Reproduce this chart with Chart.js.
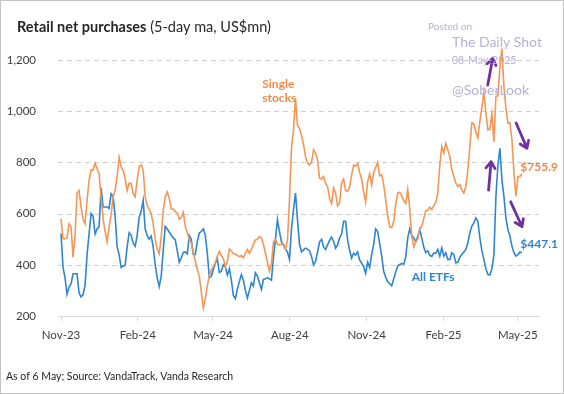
<!DOCTYPE html>
<html>
<head>
<meta charset="utf-8">
<script src="https://cdn.jsdelivr.net/npm/chart.js@4.4.1/dist/chart.umd.min.js"></script>
<style>
    html, body { margin: 0; padding: 0; background: #fff; }
    #wrap { width: 564px; height: 394px; }
</style>
</head>
<body>
<div id="wrap"><canvas id="chart" width="564" height="394"></canvas></div>
<script>
'use strict';

// x axis: days since 1 Nov 2023, one sample every ~2.4 days up to 6 May 2025
const STEP_DAYS = 2.4;
const tickDays = [0, 92, 182, 274, 366, 458, 547];
const tickLabels = ['Nov-23', 'Feb-24', 'May-24', 'Aug-24', 'Nov-24', 'Feb-25', 'May-25'];
const yTicks = [200, 400, 600, 800, 1000, 1200];

// 5-day ma, US$mn
const singleStocks = [
    580, 502, 502, 505, 560, 548, 430, 515, 680, 690,
    626, 580, 560, 650, 730, 770, 770, 796, 776, 757,
    660, 580, 530, 490, 548, 595, 665, 690, 745, 820,
    783, 770, 737, 690, 718, 718, 678, 665, 731, 783,
    790, 770, 665, 632, 615, 600, 560, 500, 462, 443,
    510, 610, 665, 685, 660, 618, 618, 608, 602, 578,
    585, 605, 550, 525, 500, 485, 447, 415, 382, 356,
    295, 232, 268, 318, 356, 380, 393, 408, 434, 452,
    436, 425, 393, 412, 462, 454, 443, 442, 436, 432,
    436, 428, 445, 460, 445, 460, 480, 497, 500, 510,
    505, 480, 445, 410, 375, 405, 490, 500, 480, 478,
    480, 482, 462, 495, 654, 855, 927, 1050, 945, 932,
    905, 870, 823, 798, 790, 800, 849, 836, 810, 738,
    735, 745, 719, 706, 660, 640, 700, 680, 630, 640,
    720, 735, 690, 688, 703, 750, 790, 785, 795, 760,
    735, 685, 645, 725, 755, 712, 760, 780, 800, 748,
    752, 712, 655, 592, 548, 545, 570, 635, 680, 683,
    670, 650, 640, 695, 620, 510, 470, 490, 500, 538,
    552, 580, 612, 612, 625, 616, 630, 645, 680, 790,
    862, 836, 875, 849, 823, 771, 745, 719, 706, 713,
    693, 680, 706, 771, 862, 955, 950, 920, 895, 960,
    1015, 1075, 992, 927, 930, 990, 880, 1057, 1060, 1174,
    1245, 1096, 1010, 953, 955, 888, 760, 667, 745, 745,
    755.9
];
const allEtfs = [
    522, 390, 350, 285, 313, 325, 365, 365, 365, 290,
    275, 283, 320, 440, 520, 600, 590, 520, 540, 548,
    700, 626, 626, 626, 620, 678, 668, 590, 470, 440,
    390, 395, 398, 470, 525, 515, 485, 472, 515, 585,
    610, 652, 540, 515, 500, 512, 470, 400, 350, 315,
    355, 456, 550, 540, 528, 515, 505, 498, 455, 410,
    426, 448, 450, 443, 515, 500, 440, 440, 490, 524,
    530, 540, 515, 445, 350, 355, 382, 407, 422, 370,
    375, 400, 392, 360, 385, 340, 280, 268, 305, 335,
    362, 340, 300, 270, 300, 330, 317, 369, 356, 330,
    304, 343, 345, 350, 345, 340, 430, 500, 577, 530,
    490, 476, 462, 450, 421, 540, 616, 680, 575, 480,
    450, 458, 465, 461, 455, 432, 400, 412, 450, 490,
    499, 470, 460, 478, 495, 508, 492, 465, 478, 505,
    520, 570, 570, 497, 458, 426, 445, 438, 451, 419,
    406, 393, 367, 410, 390, 440, 480, 540, 530, 484,
    435, 375, 352, 334, 326, 318, 345, 372, 395, 401,
    405, 402, 430, 505, 540, 515, 505, 490, 510, 538,
    505, 468, 448, 455, 437, 433, 446, 445, 460, 434,
    466, 434, 447, 421, 421, 447, 440, 408, 410, 430,
    440, 450, 460, 486, 525, 551, 564, 583, 570, 505,
    455, 420, 385, 362, 360, 385, 440, 667, 790, 855,
    732, 667, 582, 537, 512, 473, 447, 434, 440, 450,
    447.1
];

const ORANGE = '#F39656';
const BLUE = '#2F85CE';
const PURPLE = '#7030A0';
const FONT = 'Lato, "Open Sans", sans-serif';

// annotations in data space: [day, value]
const seriesLabels = [
    { text: 'Single', day: 241, val: 1106, color: '#EE8A47' },
    { text: 'stocks', day: 241, val: 1050, color: '#EE8A47' },
    { text: 'All ETFs', day: 420, val: 352, color: BLUE },
    { text: '$755.9', day: 550, val: 782, color: '#EE8A47' },
    { text: '$447.1', day: 550, val: 481, color: BLUE }
];
const arrows = [
    [511, 1102, 517, 1207],
    [512, 692, 515, 803],
    [545, 954, 558, 855],
    [538.5, 646, 552, 549]
];

function toPoints(values) {
    return values.map((v, i) => ({ x: i * STEP_DAYS, y: v }));
}

function drawArrow(ctx, x1, y1, x2, y2) {
    const ang = Math.atan2(y2 - y1, x2 - x1);
    const head = 8;
    ctx.save();
    ctx.strokeStyle = PURPLE;
    ctx.lineWidth = 2.8;
    ctx.lineCap = 'round';
    ctx.lineJoin = 'round';
    ctx.beginPath();
    ctx.moveTo(x1, y1);
    ctx.lineTo(x2, y2);
    ctx.moveTo(x2 - head * Math.cos(ang - 0.6), y2 - head * Math.sin(ang - 0.6));
    ctx.lineTo(x2, y2);
    ctx.lineTo(x2 - head * Math.cos(ang + 0.6), y2 - head * Math.sin(ang + 0.6));
    ctx.stroke();
    ctx.restore();
}

// dashed horizontal gridlines, drawn under the series
const gridPlugin = {
    id: 'dashGrid',
    beforeDatasetsDraw(chart) {
        const ctx = chart.ctx, area = chart.chartArea, ys = chart.scales.y;
        ctx.save();
        ctx.strokeStyle = '#cfcfcf';
        ctx.lineWidth = 1;
        ctx.setLineDash([5, 4]);
        yTicks.forEach(v => {
            if (v === ys.min) return;
            const y = Math.round(ys.getPixelForValue(v)) + 0.5;
            ctx.beginPath();
            ctx.moveTo(area.left, y);
            ctx.lineTo(area.right, y);
            ctx.stroke();
        });
        ctx.restore();
    }
};

const decorPlugin = {
    id: 'decor',
    afterDraw(chart) {
        const ctx = chart.ctx;
        const xs = chart.scales.x, ys = chart.scales.y;
        ctx.save();
        // frame
        ctx.strokeStyle = '#c4c4c4';
        ctx.lineWidth = 1;
        ctx.strokeRect(0.5, 0.5, 563, 393);

        // title
        ctx.textBaseline = 'middle';
        ctx.textAlign = 'left';
        ctx.fillStyle = '#262626';
        ctx.font = 'bold 14.5px ' + FONT;
        const bold = 'Retail net purchases';
        ctx.fillText(bold, 17, 27);
        const w = ctx.measureText(bold).width;
        ctx.font = '14.5px ' + FONT;
        ctx.fillText(' (5-day ma, US$mn)', 17 + w, 27);

        // footer
        ctx.font = '10.5px ' + FONT;
        ctx.fillStyle = '#262626';
        ctx.fillText('As of 6 May; Source: VandaTrack, Vanda Research', 6, 377);

        // series labels
        ctx.font = 'bold 12px ' + FONT;
        seriesLabels.forEach(l => {
            ctx.fillStyle = l.color;
            ctx.fillText(l.text, xs.getPixelForValue(l.day), ys.getPixelForValue(l.val));
        });

        // arrows
        arrows.forEach(a => drawArrow(ctx,
            xs.getPixelForValue(a[0]), ys.getPixelForValue(a[1]),
            xs.getPixelForValue(a[2]), ys.getPixelForValue(a[3])));

        // watermark
        ctx.fillStyle = '#b5b1d6';
        ctx.font = '10px ' + FONT;
        ctx.fillText('Posted on', 428, 27);
        ctx.font = '14px ' + FONT;
        ctx.fillText('The Daily Shot', 452, 42);
        ctx.font = '10.5px ' + FONT;
        ctx.fillText('08-May-2025', 452, 61);
        ctx.font = '14px ' + FONT;
        ctx.fillText('@SoberLook', 452, 90);
        ctx.restore();
    }
};

new Chart(document.getElementById('chart'), {
    type: 'line',
    data: {
        datasets: [
            {
                label: 'Single stocks',
                data: toPoints(singleStocks),
                borderColor: ORANGE, borderWidth: 1.6,
                pointRadius: 0, tension: 0, clip: false
            },
            {
                label: 'All ETFs',
                data: toPoints(allEtfs),
                borderColor: BLUE, borderWidth: 1.6,
                pointRadius: 0, tension: 0, clip: false
            }
        ]
    },
    options: {
        responsive: false,
        animation: false,
        events: [],
        layout: { padding: { top: 60, right: 25, left: 0, bottom: 0 } },
        plugins: { legend: { display: false }, tooltip: { enabled: false } },
        scales: {
            x: {
                type: 'linear', min: -3.6, max: 572.4,
                afterFit: s => { s.height = 78; },
                afterBuildTicks: s => { s.ticks = tickDays.map(v => ({ value: v })); },
                ticks: {
                    autoSkip: false, maxRotation: 0, padding: 7,
                    color: '#404040', font: { family: FONT, size: 11.5 },
                    callback: v => tickLabels[tickDays.indexOf(v)]
                },
                grid: { drawOnChartArea: false, drawTicks: true, tickLength: 5, color: '#d9d9d9' },
                border: { display: true, color: '#d9d9d9', width: 1 }
            },
            y: {
                min: 200, max: 1200,
                afterFit: s => { s.width = 58; },
                afterBuildTicks: s => { s.ticks = yTicks.map(v => ({ value: v })); },
                ticks: {
                    padding: 14, color: '#404040', font: { family: FONT, size: 11.5 },
                    callback: v => v.toLocaleString('en-US')
                },
                grid: { display: false },
                border: { display: false }
            }
        }
    },
    plugins: [gridPlugin, decorPlugin]
});
</script>
</body>
</html>
